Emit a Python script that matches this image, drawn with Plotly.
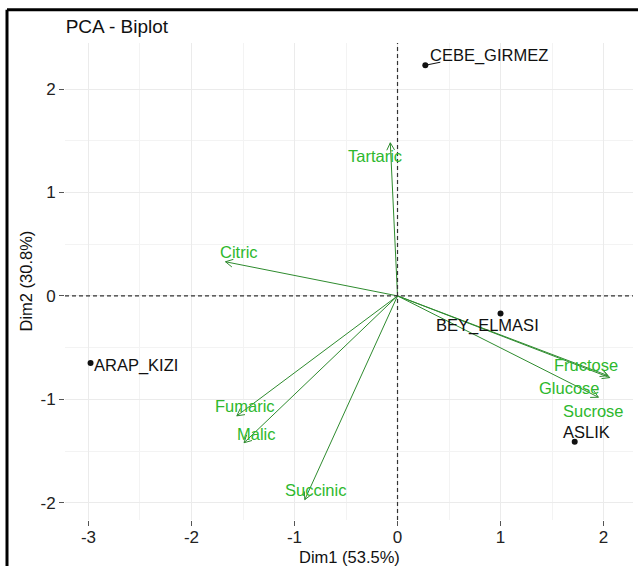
import math
import plotly.graph_objects as go

# ---------------- data ----------------
ind_names = ["CEBE_GIRMEZ", "BEY_ELMASI", "ARAP_KIZI", "ASLIK"]
ind_dim1 = [0.27, 1.00, -2.98, 1.72]
ind_dim2 = [2.23, -0.17, -0.65, -1.41]

var_names = ["Tartaric", "Citric", "Fumaric", "Malic", "Succinic", "Fructose", "Glucose", "Sucrose"]
var_dim1 = [-0.07, -1.67, -1.56, -1.49, -0.90, 2.04, 2.06, 1.95]
var_dim2 = [1.48, 0.33, -1.16, -1.42, -1.97, -0.77, -0.79, -0.98]

x_ticks = [-3, -2, -1, 0, 1, 2]
y_ticks = [-2, -1, 0, 1, 2]
x_title = "Dim1 (53.5%)"
y_title = "Dim2 (30.8%)"
title = "PCA - Biplot"

# ---------------- label offsets (pixels, repel-like placement) ----------------
ind_label_shift = {
    "CEBE_GIRMEZ": (64, 10),
    "BEY_ELMASI": (-13, -12),
    "ARAP_KIZI": (45, -2),
    "ASLIK": (12, 10),
}
var_label_shift = {
    "Tartaric": (-15, -13),
    "Citric": (14, 10),
    "Fumaric": (8, 10),
    "Malic": (12, 9),
    "Succinic": (11, 10),
    "Fructose": (-22, 11),
    "Glucose": (-40, -10),
    "Sucrose": (-5, -14),
}

# ---------------- styles ----------------
FONT = "Liberation Sans, Arial, sans-serif"
ARROW_COL = "#2E8B2E"
VARTXT_COL = "#2DB82D"
IND_COL = "#111111"
W, H = 638, 566
L, R, T, B = 65, 5, 43, 46
XR = [-3.228, 2.286]
YR = [-2.167, 2.445]
HEAD_LEN = 0.08
HEAD_ANG = math.radians(28)

fig = go.Figure()

# arrows (shaft + open head)
for name, vx, vy in zip(var_names, var_dim1, var_dim2):
    ang = math.atan2(vy, vx)
    wx1 = vx - HEAD_LEN * math.cos(ang - HEAD_ANG)
    wy1 = vy - HEAD_LEN * math.sin(ang - HEAD_ANG)
    wx2 = vx - HEAD_LEN * math.cos(ang + HEAD_ANG)
    wy2 = vy - HEAD_LEN * math.sin(ang + HEAD_ANG)
    fig.add_trace(go.Scatter(
        x=[0, vx, None, wx1, vx, wx2],
        y=[0, vy, None, wy1, vy, wy2],
        mode="lines", line=dict(color=ARROW_COL, width=1),
        hoverinfo="skip", showlegend=False, cliponaxis=False))

# individuals
fig.add_trace(go.Scatter(
    x=ind_dim1, y=ind_dim2, mode="markers",
    marker=dict(color=IND_COL, size=6),
    text=ind_names, hoverinfo="text", showlegend=False))

annotations = []
for name, px, py in zip(ind_names, ind_dim1, ind_dim2):
    dx, dy = ind_label_shift[name]
    annotations.append(dict(
        x=px, y=py, xref="x", yref="y", text=name, showarrow=False,
        xshift=dx, yshift=dy, font=dict(family=FONT, size=16.5, color=IND_COL)))

# repel segment for CEBE_GIRMEZ
ci = ind_names.index("CEBE_GIRMEZ")
sx = 15 / 103.0
sy = 3 / 103.0
fig.add_trace(go.Scatter(
    x=[ind_dim1[ci], ind_dim1[ci] + sx], y=[ind_dim2[ci], ind_dim2[ci] + sy],
    mode="lines", line=dict(color=IND_COL, width=1), hoverinfo="skip", showlegend=False))

for name, vx, vy in zip(var_names, var_dim1, var_dim2):
    dx, dy = var_label_shift[name]
    annotations.append(dict(
        x=vx, y=vy, xref="x", yref="y", text=name, showarrow=False,
        xshift=dx, yshift=dy, font=dict(family=FONT, size=16.5, color=VARTXT_COL)))

# axis titles
annotations.append(dict(x=0.5, y=(520 - 557) / 476.7, xref="paper", yref="paper",
                        text=x_title, showarrow=False, xanchor="center", yanchor="middle",
                        font=dict(family=FONT, size=16.5, color="#111111")))
annotations.append(dict(x=(25 - 65) / 568.0, y=0.5, xref="paper", yref="paper",
                        text=y_title, showarrow=False, textangle=-90,
                        xanchor="center", yanchor="middle",
                        font=dict(family=FONT, size=16.5, color="#111111")))

shapes = [
    dict(type="line", xref="x", yref="paper", x0=0, x1=0, y0=0, y1=1,
         line=dict(color="#333333", width=1.2, dash="4px,3px"), layer="above"),
    dict(type="line", xref="paper", yref="y", x0=0, x1=1, y0=0, y1=0,
         line=dict(color="#333333", width=1.2, dash="4px,3px"), layer="above"),
    # outer frame (left and top edges of the figure border)
    dict(type="line", xref="paper", yref="paper",
         x0=(7 - L) / 568.0, x1=(7 - L) / 568.0, y0=-0.2, y1=(520 - 10) / 476.7,
         line=dict(color="black", width=3)),
    dict(type="line", xref="paper", yref="paper",
         x0=(7 - L) / 568.0, x1=1.05, y0=(520 - 10) / 476.7, y1=(520 - 10) / 476.7,
         line=dict(color="black", width=3)),
]

axis_common = dict(
    showline=False, zeroline=False, showgrid=True,
    gridcolor="#EBEBEB", gridwidth=1,
    ticks="outside", ticklen=5, tickwidth=1, tickcolor="#555555",
    tickfont=dict(family=FONT, size=17, color="#222222"),
    minor=dict(dtick=0.5, showgrid=True, gridcolor="#F3F3F3", gridwidth=1, ticks=""),
    automargin=False,
)

fig.update_layout(
    width=W, height=H,
    margin=dict(l=L, r=R, t=T, b=B),
    paper_bgcolor="white", plot_bgcolor="white",
    title=dict(text=title, x=65.7 / W, xanchor="left", y=1 - 26.7 / H, yanchor="middle",
               font=dict(family=FONT, size=19, color="#111111")),
    xaxis=dict(range=XR, tickvals=x_ticks, ticktext=[str(v) for v in x_ticks],
               ticklabelstandoff=-3, **axis_common),
    yaxis=dict(range=YR, tickvals=y_ticks, ticktext=[str(v) for v in y_ticks], **axis_common),
    annotations=annotations,
    shapes=shapes,
    showlegend=False,
)

fig.write_html(
    "out.html",
    config={"displayModeBar": False},
    post_script="document.body.style.margin='0';document.body.style.overflow='hidden';",
)
